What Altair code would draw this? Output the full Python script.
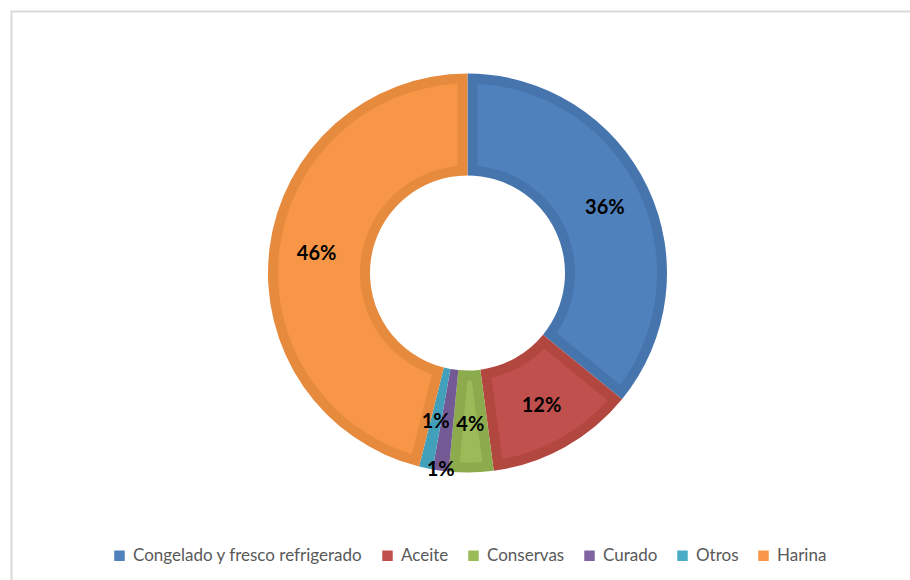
import altair as alt
import pandas as pd

categories = ["Congelado y fresco refrigerado", "Aceite", "Conservas", "Curado", "Otros", "Harina"]
values = [35.9, 12.0, 3.6, 1.3, 1.1, 46.1]
labels = ["36%", "12%", "4%", "1%", "1%", "46%"]

fill_colors = ["#4F81BD", "#C0504D", "#9BBB59", "#8064A2", "#4BACC6", "#F79646"]
edge_colors = ["#4675AE", "#B2473F", "#8CAB4C", "#735A95", "#42A0BA", "#E68A3E"]

df = pd.DataFrame({"categoria": categories, "valor": values, "etiqueta": labels})

CX, CY = 467.5, 273
R_OUT, R_IN = 199.5, 97.5
BAND = 10

base = alt.Chart(df).transform_window(
    cum="sum(valor)", frame=[None, 0]
).transform_joinaggregate(
    total="sum(valor)"
).transform_calculate(
    t0="2*PI*(datum.cum - datum.valor)/datum.total",
    t1="2*PI*datum.cum/datum.total",
    tm="PI*(2*datum.cum - datum.valor)/datum.total",
)

enc_pos = dict(x=alt.value(CX), y=alt.value(CY))

dark = base.mark_arc(radius=R_OUT, radius2=R_IN).encode(
    theta=alt.Theta("t0:Q", scale=None),
    theta2=alt.Theta2("t1:Q"),
    color=alt.Color("categoria:N", scale=alt.Scale(domain=categories, range=edge_colors), legend=None),
    **enc_pos,
)

light = base.mark_arc(radius=R_OUT - BAND, radius2=R_IN + BAND, padAngle=0.092).encode(
    theta=alt.Theta("t0:Q", scale=None),
    theta2=alt.Theta2("t1:Q"),
    color=alt.Color(
        "categoria:N",
        scale=alt.Scale(domain=categories, range=fill_colors),
        legend=alt.Legend(
            orient="none", legendX=111, legendY=547, direction="horizontal", columns=6,
            symbolType="square", symbolSize=110, symbolStrokeWidth=0,
            labelFontSize=17, labelFont="Lato", labelColor="#595959", labelLimit=0,
            columnPadding=16, labelOffset=5, title=None,
        ),
    ),
    **enc_pos,
)

text_main = base.transform_filter("datum.categoria != 'Curado'").mark_text(
    radius=152, fontSize=20, fontWeight="bold", font="Lato", color="black",
    align="center", baseline="middle",
).encode(theta=alt.Theta("tm:Q", scale=None), text="etiqueta:N", **enc_pos)

text_out = base.transform_filter("datum.categoria == 'Curado'").mark_text(
    radius=199, fontSize=20, fontWeight="bold", font="Lato", color="black",
    align="center", baseline="middle",
).encode(theta=alt.Theta("tm:Q", scale=None), text="etiqueta:N", **enc_pos)

frame = alt.Chart(pd.DataFrame({"f": [0]})).mark_rect(
    fill=None, stroke="#D9D9D9", strokeWidth=2
).encode(x=alt.value(11.5), y=alt.value(11.5), x2=alt.value(940), y2=alt.value(620))

chart = alt.layer(frame, dark, light, text_main, text_out).resolve_scale(
    color="independent"
).properties(
    width=910, height=580, autosize=alt.AutoSizeParams(type="none"), padding=0,
    background="white",
).configure_view(stroke=None)

chart.save("out.html", embed_options={"renderer": "svg", "actions": False})
